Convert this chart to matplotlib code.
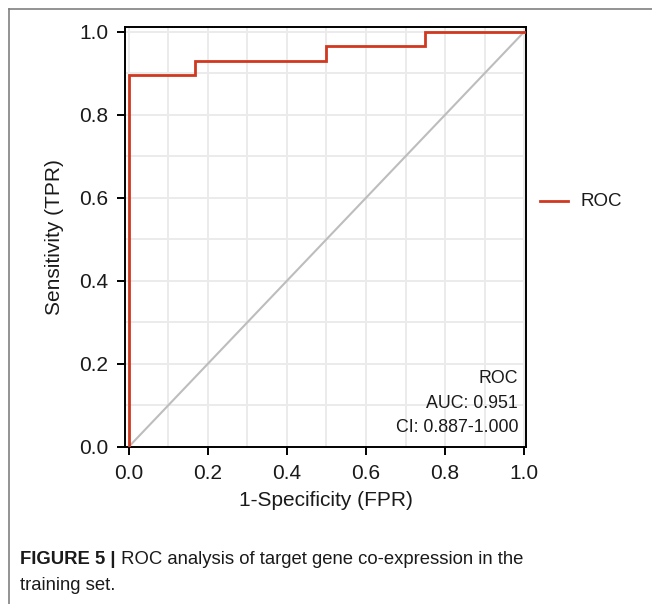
import matplotlib
matplotlib.use("Agg")
import matplotlib.pyplot as plt
from matplotlib.lines import Line2D
import numpy as np

fpr = [0.0, 0.0, 0.167, 0.167, 0.5, 0.5, 0.75, 0.75, 1.0]
tpr = [0.0, 0.897, 0.897, 0.931, 0.931, 0.966, 0.966, 1.0, 1.0]
ticks = [0.0, 0.2, 0.4, 0.6, 0.8, 1.0]
tick_labels = ["0.0", "0.2", "0.4", "0.6", "0.8", "1.0"]
annot = ["ROC", "AUC: 0.951", "CI: 0.887-1.000"]
series_name = "ROC"
caption_bold = "FIGURE 5 |"
caption_rest = " ROC analysis of target gene co-expression in the"
caption_line2 = "training set."

plt.rcParams['font.family'] = ['Liberation Sans', 'DejaVu Sans']

W, H = 652, 604
fig = plt.figure(figsize=(W / 100, H / 100), dpi=100)

# figure border lines (top and left)
fig.add_artist(Line2D([9 / W, 1.0], [1 - 8.5 / H, 1 - 8.5 / H], color="#808080", lw=1.2))
fig.add_artist(Line2D([9 / W, 9 / W], [0, 1 - 8.5 / H], color="#808080", lw=1.2))

ax = fig.add_axes([125 / W, 1 - 447 / H, (526 - 125) / W, (447 - 27) / H])
ax.set_xlim(-0.01, 1.005)
ax.set_ylim(-0.001, 1.012)

minor = np.arange(0.1, 1.0, 0.2)
ax.set_xticks(ticks)
ax.set_xticklabels(tick_labels)
ax.set_yticks(ticks)
ax.set_yticklabels(tick_labels)
ax.set_xticks(minor, minor=True)
ax.set_yticks(minor, minor=True)
ax.grid(True, which="both", color="#ebebeb", lw=1.4)
ax.set_axisbelow(True)
ax.tick_params(which="minor", length=0)
ax.tick_params(which="major", length=6, width=1.4, labelsize=15, colors="black", pad=6)
for lab in ax.get_xticklabels() + ax.get_yticklabels():
    lab.set_color("#1a1a1a")

ax.plot([0, 1], [0, 1], color="#bdbdbd", lw=1.5, zorder=2)
ax.plot(fpr, tpr, color="#d0381f", lw=2.0, zorder=3, solid_joinstyle="miter")

for s in ax.spines.values():
    s.set_linewidth(1.4)
    s.set_color("black")

ax.set_xlabel("1-Specificity (FPR)", fontsize=15, labelpad=6, color="#1a1a1a")
ax.set_ylabel("Sensitivity (TPR)", fontsize=15, labelpad=11, color="#1a1a1a")

for i, t in enumerate(annot):
    ax.text(0.985, 0.165 - i * 0.06, t, ha="right", va="center", fontsize=12.8, color="#1a1a1a")

# legend drawn on figure
fig.add_artist(Line2D([540 / W, 568 / W], [1 - 201 / H, 1 - 201 / H], color="#d0381f", lw=2.0))
fig.text(580 / W, 1 - 201 / H, series_name, ha="left", va="center", fontsize=13.5, color="#1a1a1a")

# caption
t1 = fig.text(20 / W, 1 - 560 / H, caption_bold, ha="left", va="center", fontsize=13.3, fontweight="bold", color="#1a1a1a")
fig.canvas.draw()
bb = t1.get_window_extent()
fig.text(bb.x1 / W, 1 - 560 / H, caption_rest, ha="left", va="center", fontsize=13.3, color="#1a1a1a")
fig.text(20 / W, 1 - 585 / H, caption_line2, ha="left", va="center", fontsize=13.3, color="#1a1a1a")

fig.savefig("out.png", dpi=100)
